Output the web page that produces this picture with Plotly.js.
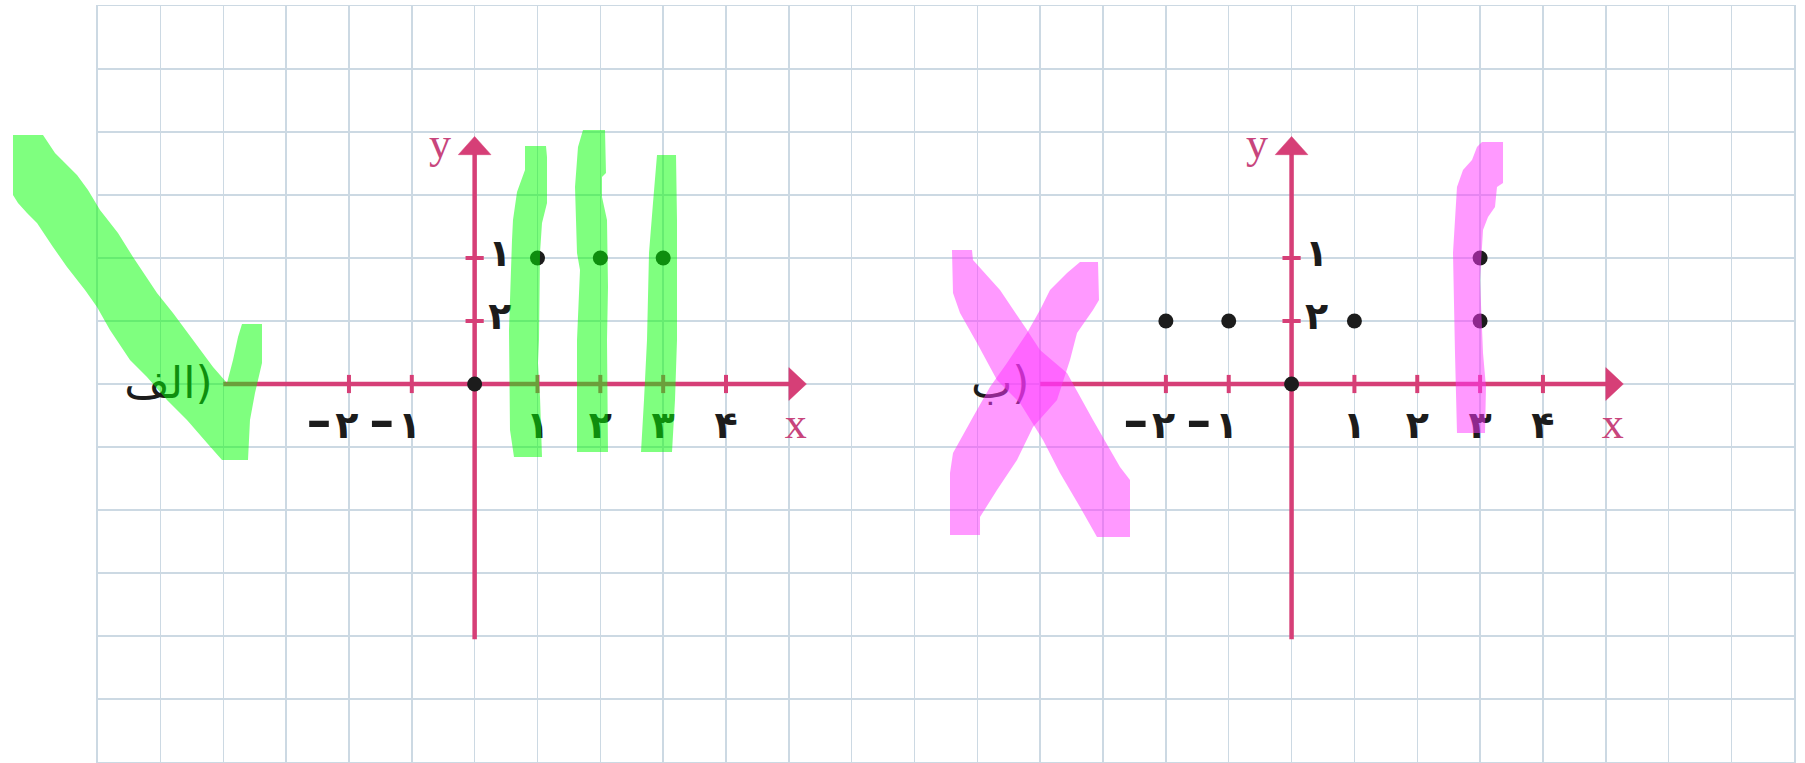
<!DOCTYPE html>
<html>
<head>
<meta charset="utf-8">
<script src="https://cdn.plot.ly/plotly-3.0.1.min.js"></script>
<style>
  html, body { margin: 0; padding: 0; background: #ffffff; overflow: hidden; }
  #chart { width: 1805px; height: 763px; }
</style>
</head>
<body>
<div id="chart"></div>
<script>
// ---------------- data ----------------
const xTickValues = [-2, -1, 1, 2, 3, 4];
const xTickLabels = ['–۲', '–۱', '۱', '۲', '۳', '۴'];
const yTickValues = [2, 1];
const yTickLabels = ['۱', '۲'];
const originX = [0];
const originY = [0];
const pointsAX = [1, 2, 3];
const pointsAY = [2, 2, 2];
const pointsBX = [-2, -1, 1, 3, 3];
const pointsBY = [1, 1, 1, 2, 1];
const panelLabels = ['الف)', 'ب)'];
const axisNames = ['x', 'y'];

// ---------------- geometry / style ----------------
const W = 1805, H = 763;
const GRID_L = 97.6, GRID_R = 1794.3, GRID_T = 6, GRID_B = 762;
const RANGE_A = [-6, 21];      // grid columns relative to origin of (الف)
const RANGE_B = [-19, 8];      // grid columns relative to origin of (ب)
const RANGE_Y = [-6, 6];
const AXIS_X_START = -4, AXIS_X_BASE = 5.0, AXIS_X_TIP = 5.28, ARROW_HALF_Y = 0.26;
const AXIS_Y_START = -4.05, AXIS_Y_BASE = 3.64, AXIS_Y_TIP = 3.93, ARROW_HALF_X = 0.26;
const PINK = '#d63f77';
const NAME_PINK = '#c8457c';
const INK = '#1c1c1c';
const GRID_COLOR = '#ccd9e3';
const DIGIT_FONT = "'DejaVu Sans', sans-serif";
const SERIF_FONT = "'Liberation Serif', 'DejaVu Serif', serif";

const GREEN_HL = 'rgba(0,255,0,0.5)';
const PINK_HL = 'rgba(255,51,255,0.5)';
// highlighter strokes in page pixels
const highlightStrokes = [
  { color: GREEN_HL, pts: [[13,135],[43,135],[55,153],[62,160],[77,175],[88,190],[100,210],[118,233],[133,257],[157,293],[173,313],[193,340],[213,367],[227,383],[233,360],[238,337],[242,324],[262,324],[262,363],[255,393],[250,420],[248,460],[222,460],[207,443],[187,420],[167,400],[147,377],[130,360],[110,330],[97,307],[85,290],[67,267],[53,247],[37,223],[27,213],[18,203],[13,195]] },
  { color: GREEN_HL, pts: [[525,146],[546,146],[547,157],[547,203],[542,223],[540,253],[539,340],[538,363],[540,397],[542,457],[514,457],[510,430],[509,330],[512,240],[513,220],[517,192],[525,170]] },
  { color: GREEN_HL, pts: [[583,130],[605,130],[606,173],[602,177],[602,197],[607,220],[608,287],[607,340],[608,452],[577,452],[577,340],[580,270],[577,253],[575,187],[578,147]] },
  { color: GREEN_HL, pts: [[657,155],[676,155],[677,220],[677,340],[675,400],[672,452],[641,452],[644,400],[647,340],[649,253],[653,203]] },
  { color: PINK_HL, pts: [[952,250],[972,250],[973,260],[1000,290],[1027,330],[1040,350],[1067,373],[1093,420],[1120,467],[1130,480],[1130,537],[1097,537],[1080,507],[1060,473],[1043,440],[1020,403],[997,380],[977,343],[960,313],[953,293]] },
  { color: PINK_HL, pts: [[1098,262],[1080,262],[1067,273],[1050,290],[1040,310],[1027,333],[1007,363],[990,387],[973,417],[953,453],[950,473],[950,535],[980,535],[980,517],[997,490],[1017,460],[1033,427],[1057,400],[1070,360],[1077,333],[1093,310],[1099,300]] },
  { color: PINK_HL, pts: [[1482,142],[1503,142],[1503,183],[1497,187],[1495,207],[1488,217],[1483,230],[1480,280],[1483,353],[1486,387],[1485,433],[1457,433],[1455,353],[1453,253],[1457,187],[1463,170],[1472,160],[1477,147]] }
];

function seq(a, b) { const out = []; for (let i = a; i <= b; i++) out.push(i); return out; }
// render the leading dash of a negative label a little larger, like the printed minus
function styleTickLabel(t) {
  return t.charAt(0) === '–' ? '<span style="font-size:50px">–</span>\u200A' + t.slice(1) : t;
}

// ---------------- traces ----------------
const traces = [];
const systems = [{ xa: 'x', label: panelLabels[0], px: pointsAX, py: pointsAY },
                 { xa: 'x2', label: panelLabels[1], px: pointsBX, py: pointsBY }];

systems.forEach(function (s) {
  // coordinate axes
  traces.push({ type: 'scatter', mode: 'lines', xaxis: s.xa, yaxis: 'y',
    x: [AXIS_X_START, AXIS_X_BASE + 0.02, null, 0, 0],
    y: [0, 0, null, AXIS_Y_START, AXIS_Y_BASE + 0.02],
    line: { color: PINK, width: 4.5 }, hoverinfo: 'skip' });
  traces.push({ type: 'scatter', mode: 'lines', xaxis: s.xa, yaxis: 'y', fill: 'toself', fillcolor: PINK,
    x: [AXIS_X_BASE, AXIS_X_TIP, AXIS_X_BASE, AXIS_X_BASE, null, -ARROW_HALF_X, 0, ARROW_HALF_X, -ARROW_HALF_X],
    y: [ARROW_HALF_Y, 0, -ARROW_HALF_Y, ARROW_HALF_Y, null, AXIS_Y_BASE, AXIS_Y_TIP, AXIS_Y_BASE, AXIS_Y_BASE],
    line: { color: PINK, width: 0.5 }, hoverinfo: 'skip' });
  // tick marks
  traces.push({ type: 'scatter', mode: 'markers', xaxis: s.xa, yaxis: 'y',
    x: xTickValues, y: xTickValues.map(function () { return 0; }),
    marker: { symbol: 'line-ns-open', size: 13, color: PINK, line: { color: PINK, width: 4 } }, hoverinfo: 'skip' });
  traces.push({ type: 'scatter', mode: 'markers', xaxis: s.xa, yaxis: 'y',
    x: yTickValues.map(function () { return 0; }), y: yTickValues,
    marker: { symbol: 'line-ew-open', size: 13, color: PINK, line: { color: PINK, width: 4 } }, hoverinfo: 'skip' });
  // points
  traces.push({ type: 'scatter', mode: 'markers', xaxis: s.xa, yaxis: 'y',
    x: originX.concat(s.px), y: originY.concat(s.py),
    marker: { symbol: 'circle', size: 15, color: INK }, hoverinfo: 'skip' });
  // x tick labels
  traces.push({ type: 'scatter', mode: 'text', xaxis: s.xa, yaxis: 'y',
    x: xTickValues.map(function (v) { return v < 0 ? v + 0.15 : v; }),
    y: xTickValues.map(function () { return -0.7; }),
    text: xTickLabels.map(styleTickLabel),
    textposition: xTickValues.map(function (v) { return v < 0 ? 'middle left' : 'middle center'; }),
    textfont: { family: DIGIT_FONT, size: 38, weight: 'bold', color: INK }, cliponaxis: false, hoverinfo: 'skip' });
  // y tick labels
  traces.push({ type: 'scatter', mode: 'text', xaxis: s.xa, yaxis: 'y',
    x: yTickValues.map(function () { return 0.4; }),
    y: yTickValues.map(function (v) { return v + 0.02; }),
    text: yTickLabels, textposition: 'middle center',
    textfont: { family: DIGIT_FONT, size: 38, weight: 'bold', color: INK }, cliponaxis: false, hoverinfo: 'skip' });
  // axis names
  traces.push({ type: 'scatter', mode: 'text', xaxis: s.xa, yaxis: 'y',
    x: [5.11, -0.55], y: [-0.68, 3.76], text: axisNames, textposition: 'middle center',
    textfont: { family: SERIF_FONT, size: 44, color: NAME_PINK }, cliponaxis: false, hoverinfo: 'skip' });
  // panel label
  traces.push({ type: 'scatter', mode: 'text', xaxis: s.xa, yaxis: 'y',
    x: [-4.17], y: [-0.05], text: [s.label], textposition: 'middle left',
    textfont: { family: DIGIT_FONT, size: 44, color: INK }, cliponaxis: false, hoverinfo: 'skip' });
});

// ---------------- highlighter shapes ----------------
const shapes = highlightStrokes.map(function (h) {
  const p = h.pts.map(function (q, i) {
    return (i === 0 ? 'M' : 'L') + (q[0] / W).toFixed(5) + ',' + (1 - q[1] / H).toFixed(5);
  }).join(' ') + ' Z';
  return { type: 'path', xref: 'paper', yref: 'paper', layer: 'above', path: p,
    fillcolor: h.color, line: { width: 0 } };
});

// ---------------- layout ----------------
const layout = {
  width: W, height: H, autosize: false,
  margin: { l: 0, r: 0, t: 0, b: 0, pad: 0 },
  paper_bgcolor: '#ffffff', plot_bgcolor: '#ffffff',
  showlegend: false,
  xaxis: { domain: [GRID_L / W, GRID_R / W], range: RANGE_A, tickmode: 'array', tickvals: seq(RANGE_A[0], RANGE_A[1]),
    showticklabels: false, ticks: '', showgrid: true, gridcolor: GRID_COLOR, gridwidth: 1.5,
    zeroline: false, showline: true, mirror: true, linecolor: GRID_COLOR, linewidth: 1.5, fixedrange: true },
  xaxis2: { overlaying: 'x', anchor: 'y', range: RANGE_B, visible: false, fixedrange: true },
  yaxis: { domain: [1 - GRID_B / H, 1 - GRID_T / H], range: RANGE_Y, tickmode: 'array', tickvals: seq(RANGE_Y[0], RANGE_Y[1]),
    showticklabels: false, ticks: '', showgrid: true, gridcolor: GRID_COLOR, gridwidth: 1.5,
    zeroline: false, showline: true, mirror: true, linecolor: GRID_COLOR, linewidth: 1.5, fixedrange: true },
  shapes: shapes
};

Plotly.newPlot('chart', traces, layout, { staticPlot: true, displayModeBar: false });
</script>
</body>
</html>
